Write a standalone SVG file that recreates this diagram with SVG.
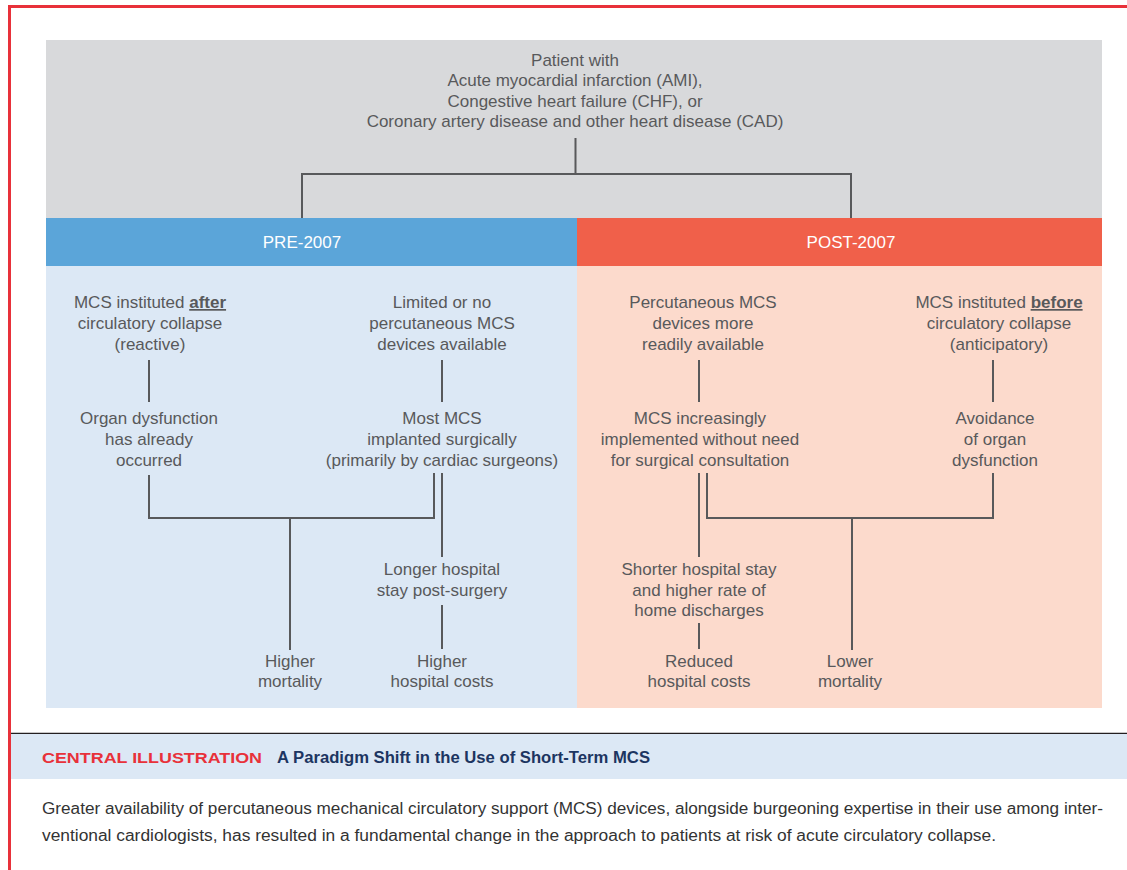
<svg xmlns="http://www.w3.org/2000/svg" width="1127" height="870" viewBox="0 0 1127 870">
<style>
.t{font-family:"Liberation Sans",Arial,sans-serif;font-size:17px;fill:#58595b;text-anchor:middle}
.h{font-family:"Liberation Sans",Arial,sans-serif;font-size:17px;fill:#ffffff;text-anchor:middle}
.b{font-weight:bold;text-decoration:underline}
.c{fill:none;stroke:#58595b;stroke-width:2}
.cap{font-family:"Liberation Sans",Arial,sans-serif;font-size:16px;fill:#333333}
</style>
<rect width="1127" height="870" fill="#ffffff"/>
<g id="frame">
<line x1="9.5" y1="6.5" x2="1127" y2="6.5" stroke="#e8313a" stroke-width="3"/>
<line x1="9.5" y1="5" x2="9.5" y2="870" stroke="#e8313a" stroke-width="3"/>
</g>
<g id="panels">
<rect x="46" y="40" width="1056" height="178" fill="#d8d9db"/>
<rect x="46" y="218" width="531" height="48" fill="#5ba5d9"/>
<rect x="577" y="218" width="525" height="48" fill="#f0604a"/>
<rect x="46" y="266" width="531" height="442" fill="#dce8f5"/>
<rect x="577" y="266" width="525" height="442" fill="#fcdacc"/>
</g>
<g id="connectors">
<path class="c" d="M575.5 138V174M302 218V174H851V218"/>
<path class="c" d="M149 360V402M442 360V402M699 360V402M993 360V402"/>
<path class="c" d="M149 475V518H434V473M290 518V650M442 473V557M442 605V649"/>
<path class="c" d="M699 473V557M707 473V518H993V473M852 518V650M699 623V649"/>
</g>
<g id="node-patient">
<text class="t" x="575" y="66">Patient with</text>
<text class="t" x="575" y="86">Acute myocardial infarction (AMI),</text>
<text class="t" x="575" y="107">Congestive heart failure (CHF), or</text>
<text class="t" x="575" y="127">Coronary artery disease and other heart disease (CAD)</text>
</g>
<g id="header-pre"><text class="h" x="302" y="248">PRE-2007</text></g>
<g id="header-post"><text class="h" x="851" y="248">POST-2007</text></g>
<g id="node-after">
<text class="t" x="150" y="308">MCS instituted <tspan class="b">after</tspan></text>
<text class="t" x="150" y="329">circulatory collapse</text>
<text class="t" x="150" y="350">(reactive)</text>
</g>
<g id="node-organ">
<text class="t" x="149" y="424">Organ dysfunction</text>
<text class="t" x="149" y="445">has already</text>
<text class="t" x="149" y="466">occurred</text>
</g>
<g id="node-limited">
<text class="t" x="442" y="308">Limited or no</text>
<text class="t" x="442" y="329">percutaneous MCS</text>
<text class="t" x="442" y="350">devices available</text>
</g>
<g id="node-surgical">
<text class="t" x="442" y="424">Most MCS</text>
<text class="t" x="442" y="445">implanted surgically</text>
<text class="t" x="442" y="466">(primarily by cardiac surgeons)</text>
</g>
<g id="node-longer">
<text class="t" x="442" y="575">Longer hospital</text>
<text class="t" x="442" y="596">stay post-surgery</text>
</g>
<g id="node-higher-mortality">
<text class="t" x="290" y="667">Higher</text>
<text class="t" x="290" y="687">mortality</text>
</g>
<g id="node-higher-costs">
<text class="t" x="442" y="667">Higher</text>
<text class="t" x="442" y="687">hospital costs</text>
</g>
<g id="node-percutaneous">
<text class="t" x="703" y="308">Percutaneous MCS</text>
<text class="t" x="703" y="329">devices more</text>
<text class="t" x="703" y="350">readily available</text>
</g>
<g id="node-increasingly">
<text class="t" x="700" y="424">MCS increasingly</text>
<text class="t" x="700" y="445">implemented without need</text>
<text class="t" x="700" y="466">for surgical consultation</text>
</g>
<g id="node-before">
<text class="t" x="999" y="308">MCS instituted <tspan class="b">before</tspan></text>
<text class="t" x="999" y="329">circulatory collapse</text>
<text class="t" x="999" y="350">(anticipatory)</text>
</g>
<g id="node-avoidance">
<text class="t" x="995" y="424">Avoidance</text>
<text class="t" x="995" y="445">of organ</text>
<text class="t" x="995" y="466">dysfunction</text>
</g>
<g id="node-shorter">
<text class="t" x="699" y="575">Shorter hospital stay</text>
<text class="t" x="699" y="596">and higher rate of</text>
<text class="t" x="699" y="616">home discharges</text>
</g>
<g id="node-reduced">
<text class="t" x="699" y="667">Reduced</text>
<text class="t" x="699" y="687">hospital costs</text>
</g>
<g id="node-lower">
<text class="t" x="850" y="667">Lower</text>
<text class="t" x="850" y="687">mortality</text>
</g>
<g id="caption">
<line x1="11" y1="733.5" x2="1127" y2="733.5" stroke="#231f20" stroke-width="1.5"/>
<rect x="11" y="734" width="1116" height="45" fill="#dce8f5"/>
<text x="42" y="763" font-family="'Liberation Sans',Arial,sans-serif" font-size="15" font-weight="bold" fill="#e8313a" textLength="220" lengthAdjust="spacingAndGlyphs">CENTRAL ILLUSTRATION</text>
<text x="277" y="763" font-family="'Liberation Sans',Arial,sans-serif" font-size="16" font-weight="bold" fill="#1c3561" textLength="373" lengthAdjust="spacingAndGlyphs">A Paradigm Shift in the Use of Short-Term MCS</text>
<text class="cap" x="42" y="814" textLength="1061" lengthAdjust="spacingAndGlyphs">Greater availability of percutaneous mechanical circulatory support (MCS) devices, alongside burgeoning expertise in their use among inter-</text>
<text class="cap" x="42" y="841" textLength="954" lengthAdjust="spacingAndGlyphs">ventional cardiologists, has resulted in a fundamental change in the approach to patients at risk of acute circulatory collapse.</text>
</g>
</svg>
